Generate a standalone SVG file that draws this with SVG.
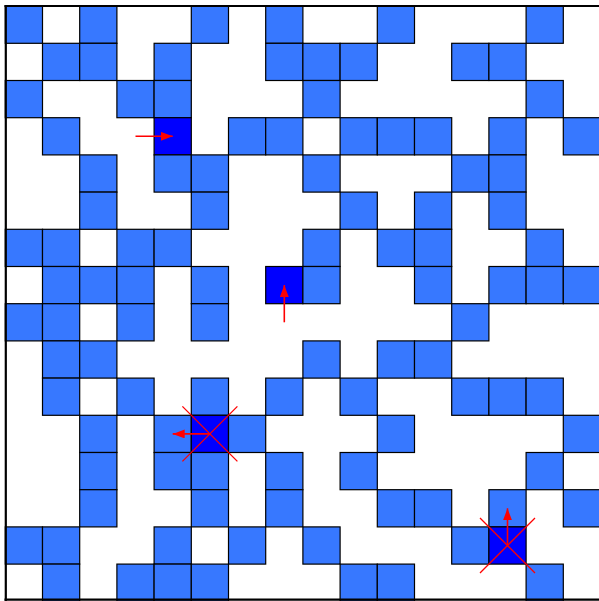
<svg xmlns="http://www.w3.org/2000/svg" width="599" height="601" viewBox="0 0 599 601">
<style>
.f{fill:#3778ff;stroke:#000;stroke-width:1.2}
.d{fill:#0000ff;stroke:#000;stroke-width:1.2}
.ar{stroke:#ff0000;stroke-width:1.6;fill:none}
.x{stroke:#ff0000;stroke-width:1.3;fill:none}
.bd{stroke:#000;stroke-width:2.2}
</style>
<defs>
<rect id="c" width="37.2" height="37.2"/>
<marker id="ah" markerUnits="userSpaceOnUse" markerWidth="14" markerHeight="10" refX="12" refY="4.5" orient="auto">
<path d="M0,0 L12,4.5 L0,9 Z" fill="#ff0000"/>
</marker>
</defs>
<rect width="599" height="601" fill="#fff"/>
<g id="grid" transform="translate(5.3,6.1)">
<g id="row0"><use href="#c" class="f" x="0" y="0"/><use href="#c" class="f" x="74.4" y="0"/><use href="#c" class="f" x="186" y="0"/><use href="#c" class="f" x="260.4" y="0"/><use href="#c" class="f" x="372" y="0"/><use href="#c" class="f" x="520.8" y="0"/></g>
<g id="row1"><use href="#c" class="f" x="37.2" y="37.2"/><use href="#c" class="f" x="74.4" y="37.2"/><use href="#c" class="f" x="148.8" y="37.2"/><use href="#c" class="f" x="260.4" y="37.2"/><use href="#c" class="f" x="297.6" y="37.2"/><use href="#c" class="f" x="334.8" y="37.2"/><use href="#c" class="f" x="446.4" y="37.2"/><use href="#c" class="f" x="483.6" y="37.2"/></g>
<g id="row2"><use href="#c" class="f" x="0" y="74.4"/><use href="#c" class="f" x="111.6" y="74.4"/><use href="#c" class="f" x="148.8" y="74.4"/><use href="#c" class="f" x="297.6" y="74.4"/><use href="#c" class="f" x="520.8" y="74.4"/></g>
<g id="row3"><use href="#c" class="f" x="37.2" y="111.6"/><use href="#c" class="d" x="148.8" y="111.6"/><use href="#c" class="f" x="223.2" y="111.6"/><use href="#c" class="f" x="260.4" y="111.6"/><use href="#c" class="f" x="334.8" y="111.6"/><use href="#c" class="f" x="372" y="111.6"/><use href="#c" class="f" x="409.2" y="111.6"/><use href="#c" class="f" x="483.6" y="111.6"/><use href="#c" class="f" x="558" y="111.6"/></g>
<g id="row4"><use href="#c" class="f" x="74.4" y="148.8"/><use href="#c" class="f" x="148.8" y="148.8"/><use href="#c" class="f" x="186" y="148.8"/><use href="#c" class="f" x="297.6" y="148.8"/><use href="#c" class="f" x="446.4" y="148.8"/><use href="#c" class="f" x="483.6" y="148.8"/></g>
<g id="row5"><use href="#c" class="f" x="74.4" y="186"/><use href="#c" class="f" x="186" y="186"/><use href="#c" class="f" x="334.8" y="186"/><use href="#c" class="f" x="409.2" y="186"/><use href="#c" class="f" x="483.6" y="186"/></g>
<g id="row6"><use href="#c" class="f" x="0" y="223.2"/><use href="#c" class="f" x="37.2" y="223.2"/><use href="#c" class="f" x="111.6" y="223.2"/><use href="#c" class="f" x="148.8" y="223.2"/><use href="#c" class="f" x="297.6" y="223.2"/><use href="#c" class="f" x="372" y="223.2"/><use href="#c" class="f" x="409.2" y="223.2"/><use href="#c" class="f" x="520.8" y="223.2"/></g>
<g id="row7"><use href="#c" class="f" x="37.2" y="260.4"/><use href="#c" class="f" x="74.4" y="260.4"/><use href="#c" class="f" x="111.6" y="260.4"/><use href="#c" class="f" x="186" y="260.4"/><use href="#c" class="d" x="260.4" y="260.4"/><use href="#c" class="f" x="297.6" y="260.4"/><use href="#c" class="f" x="409.2" y="260.4"/><use href="#c" class="f" x="483.6" y="260.4"/><use href="#c" class="f" x="520.8" y="260.4"/><use href="#c" class="f" x="558" y="260.4"/></g>
<g id="row8"><use href="#c" class="f" x="0" y="297.6"/><use href="#c" class="f" x="37.2" y="297.6"/><use href="#c" class="f" x="111.6" y="297.6"/><use href="#c" class="f" x="186" y="297.6"/><use href="#c" class="f" x="446.4" y="297.6"/></g>
<g id="row9"><use href="#c" class="f" x="37.2" y="334.8"/><use href="#c" class="f" x="74.4" y="334.8"/><use href="#c" class="f" x="297.6" y="334.8"/><use href="#c" class="f" x="372" y="334.8"/><use href="#c" class="f" x="409.2" y="334.8"/></g>
<g id="row10"><use href="#c" class="f" x="37.2" y="372"/><use href="#c" class="f" x="111.6" y="372"/><use href="#c" class="f" x="186" y="372"/><use href="#c" class="f" x="260.4" y="372"/><use href="#c" class="f" x="334.8" y="372"/><use href="#c" class="f" x="446.4" y="372"/><use href="#c" class="f" x="483.6" y="372"/><use href="#c" class="f" x="520.8" y="372"/></g>
<g id="row11"><use href="#c" class="f" x="74.4" y="409.2"/><use href="#c" class="f" x="148.8" y="409.2"/><use href="#c" class="d" x="186" y="409.2"/><use href="#c" class="f" x="223.2" y="409.2"/><use href="#c" class="f" x="372" y="409.2"/><use href="#c" class="f" x="558" y="409.2"/></g>
<g id="row12"><use href="#c" class="f" x="74.4" y="446.4"/><use href="#c" class="f" x="148.8" y="446.4"/><use href="#c" class="f" x="186" y="446.4"/><use href="#c" class="f" x="260.4" y="446.4"/><use href="#c" class="f" x="334.8" y="446.4"/><use href="#c" class="f" x="520.8" y="446.4"/></g>
<g id="row13"><use href="#c" class="f" x="74.4" y="483.6"/><use href="#c" class="f" x="186" y="483.6"/><use href="#c" class="f" x="260.4" y="483.6"/><use href="#c" class="f" x="372" y="483.6"/><use href="#c" class="f" x="409.2" y="483.6"/><use href="#c" class="f" x="483.6" y="483.6"/><use href="#c" class="f" x="558" y="483.6"/></g>
<g id="row14"><use href="#c" class="f" x="0" y="520.8"/><use href="#c" class="f" x="37.2" y="520.8"/><use href="#c" class="f" x="148.8" y="520.8"/><use href="#c" class="f" x="223.2" y="520.8"/><use href="#c" class="f" x="297.6" y="520.8"/><use href="#c" class="f" x="446.4" y="520.8"/><use href="#c" class="d" x="483.6" y="520.8"/></g>
<g id="row15"><use href="#c" class="f" x="37.2" y="558"/><use href="#c" class="f" x="111.6" y="558"/><use href="#c" class="f" x="148.8" y="558"/><use href="#c" class="f" x="186" y="558"/><use href="#c" class="f" x="334.8" y="558"/><use href="#c" class="f" x="372" y="558"/><use href="#c" class="f" x="520.8" y="558"/></g>
</g>
<g id="frame">
<line class="bd" x1="4.5" y1="6" x2="599" y2="6"/>
<line class="bd" x1="5.8" y1="5" x2="5.8" y2="601"/>
<line class="bd" x1="4.5" y1="599.6" x2="599" y2="599.6"/>
</g>
<g id="markers" transform="translate(5.3,6.1)">
<line class="ar" x1="130.2" y1="130.2" x2="167.4" y2="130.2" marker-end="url(#ah)"/>
<line class="ar" x1="279" y1="316.2" x2="279" y2="279" marker-end="url(#ah)"/>
<line class="ar" x1="204.6" y1="427.8" x2="167.4" y2="427.8" marker-end="url(#ah)"/>
<line class="ar" x1="502.2" y1="539.4" x2="502.2" y2="502.2" marker-end="url(#ah)"/>
<path class="x" d="M177.1,400.3 L232.1,455.3 M232.1,400.3 L177.1,455.3"/>
<path class="x" d="M474.7,511.9 L529.7,566.9 M529.7,511.9 L474.7,566.9"/>
</g>
</svg>
